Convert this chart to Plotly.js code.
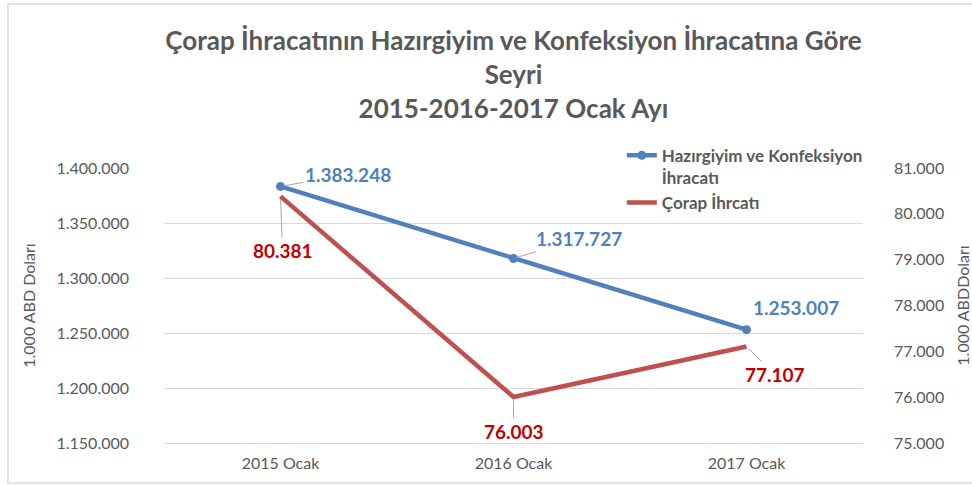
<!DOCTYPE html>
<html>
<head>
<meta charset="utf-8">
<script src="https://cdn.plot.ly/plotly-3.0.1.min.js"></script>
<style>
  html, body { margin: 0; padding: 0; background: #ffffff; }
  #chart { width: 972px; height: 485px; }
</style>
</head>
<body>
<div id="chart"></div>
<script>
// ---- data ----
const categories = ['2015 Ocak', '2016 Ocak', '2017 Ocak'];
const hazirgiyimName = 'Hazırgiyim ve Konfeksiyon<br>İhracatı';
const hazirgiyimValues = [1383248, 1317727, 1253007];
const corapName = 'Çorap İhrcatı';
const corapValues = [80381, 76003, 77107];
const titleLines = ['Çorap İhracatının Hazırgiyim ve Konfeksiyon İhracatına Göre', 'Seyri', '2015-2016-2017 Ocak Ayı'];
const leftAxisTitle = '1.000 ABD Doları';
const rightAxisTitle = '1.000 ABDDoları';

// ---- styling ----
const FONT = 'Lato, "Open Sans", sans-serif';
const GREY = '#595959';
const BLUE = '#4F81BD';
const RED = '#C0504D';
const DARKRED = '#C00000';
const M = { l: 164, r: 109, t: 168, b: 42 };
const W = 972, H = 485;
const pw = W - M.l - M.r, ph = H - M.t - M.b;

function fmt(v) {
  return String(v).replace(/\B(?=(\d{3})+(?!\d))/g, '.');
}

// label offsets (pixels) per point: [ax, ay, showLeader]
const blueOffsets = [[67, -12, true], [65, -20, true], [49, -22, false]];
const redOffsets = [[2, 54, true], [0, 34, true], [28, 28, true]];

const traces = [
  {
    x: categories, y: hazirgiyimValues, name: hazirgiyimName,
    type: 'scatter', mode: 'lines+markers',
    line: { color: BLUE, width: 4.5 },
    marker: { color: BLUE, size: 9 },
    yaxis: 'y', hoverinfo: 'skip'
  },
  {
    x: categories, y: corapValues, name: corapName,
    type: 'scatter', mode: 'lines',
    line: { color: RED, width: 4.5 },
    yaxis: 'y2', hoverinfo: 'skip'
  }
];

const annotations = [];
categories.forEach((c, i) => {
  const bo = blueOffsets[i];
  annotations.push({
    x: c, y: hazirgiyimValues[i], xref: 'x', yref: 'y',
    text: fmt(hazirgiyimValues[i]),
    showarrow: true, arrowhead: 0, arrowwidth: 1,
    arrowcolor: bo[2] ? '#a6a6a6' : 'rgba(0,0,0,0)',
    ax: bo[0], ay: bo[1], standoff: 3,
    font: { family: FONT, size: 19, color: BLUE, weight: 'bold' }
  });
  const ro = redOffsets[i];
  annotations.push({
    x: c, y: corapValues[i], xref: 'x', yref: 'y2',
    text: fmt(corapValues[i]),
    showarrow: true, arrowhead: 0, arrowwidth: 1,
    arrowcolor: ro[2] ? '#a6a6a6' : 'rgba(0,0,0,0)',
    ax: ro[0], ay: ro[1], standoff: 3,
    font: { family: FONT, size: 19, color: DARKRED, weight: 'bold' }
  });
});

const layout = {
  width: W, height: H,
  margin: M,
  paper_bgcolor: '#ffffff', plot_bgcolor: '#ffffff',
  separators: ',.',
  font: { family: FONT, color: GREY, size: 16 },
  title: {
    text: '<b>' + titleLines.join('<br>') + '</b>',
    font: { family: FONT, size: 26, color: GREY },
    x: 0.5, xanchor: 'center', xref: 'paper',
    yref: 'container', y: 1 - 50 / H, yanchor: 'top'
  },
  showlegend: true,
  legend: {
    x: 0.655, y: 1.11, xanchor: 'left', yanchor: 'top',
    bgcolor: 'rgba(0,0,0,0)',
    font: { family: FONT, size: 17, color: GREY, weight: 'bold' },
    valign: 'top', traceorder: 'normal', tracegroupgap: 0
  },
  xaxis: {
    type: 'category', range: [-0.5, 2.5],
    showgrid: false, zeroline: false,
    showline: true, linecolor: '#d9d9d9', linewidth: 1,
    ticks: '', tickfont: { family: FONT, size: 16, color: GREY },
    ticklabelstandoff: 6,
    fixedrange: true
  },
  yaxis: {
    range: [1150000, 1400000], dtick: 50000, tick0: 1150000,
    tickformat: ',d',
    showgrid: true, gridcolor: '#d9d9d9', gridwidth: 1,
    zeroline: false, showline: false, ticks: '',
    tickfont: { family: FONT, size: 16, color: GREY },
    ticklabelstandoff: 34,
    title: { text: leftAxisTitle, font: { family: FONT, size: 16, color: GREY }, standoff: 16 },
    fixedrange: true
  },
  yaxis2: {
    overlaying: 'y', side: 'right',
    range: [75000, 81000], dtick: 1000, tick0: 75000,
    tickformat: ',d',
    showgrid: false, zeroline: false, showline: false, ticks: '',
    tickfont: { family: FONT, size: 16, color: GREY },
    ticklabelstandoff: 30,
    title: { text: rightAxisTitle, font: { family: FONT, size: 16, color: GREY }, standoff: 24 },
    fixedrange: true
  },
  annotations: annotations,
  shapes: [{
    type: 'rect', xref: 'paper', yref: 'paper',
    x0: (8 - M.l) / pw, x1: (W + 20 - M.l) / pw,
    y0: -((H - 2) - (H - M.b)) / ph,
    y1: 1 + (M.t - 4) / ph,
    line: { color: '#d9d9d9', width: 1.5 },
    fillcolor: 'rgba(0,0,0,0)', layer: 'below'
  }]
};

Plotly.newPlot('chart', traces, layout, { displayModeBar: false, staticPlot: true });
</script>
</body>
</html>
